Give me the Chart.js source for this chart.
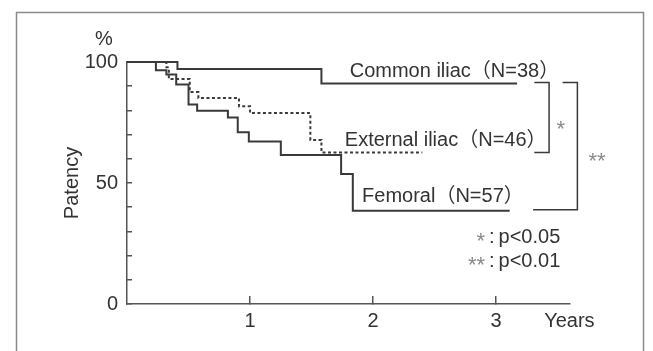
<!DOCTYPE html>
<html>
<head>
<meta charset="utf-8">
<title>Patency</title>
<script src="https://cdn.jsdelivr.net/npm/chart.js@4.4.1/dist/chart.umd.min.js"></script>
<style>
  html, body { margin: 0; padding: 0; background: #fff; }
  #wrap { width: 653px; height: 351px; position: relative; }
</style>
</head>
<body>
<div id="wrap"><canvas id="chart" width="653" height="351"></canvas></div>
<script>
(function() {
    'use strict';

    // Kaplan-Meier steps (years, % patency after each event)
    const commonYears = [0, 0.41, 1.58, 3.17];
    const commonPatency = [100, 97.1, 91.1, 91.1];
    const externalYears = [0, 0.32, 0.34, 0.51, 0.58, 0.91, 1.0, 1.49, 1.58, 2.40];
    const externalPatency = [100, 97.8, 93.0, 87.6, 85.1, 81.7, 78.9, 67.8, 62.6, 62.6];
    const femoralYears = [0, 0.235, 0.32, 0.40, 0.50, 0.57, 0.82, 0.90, 0.99, 1.25, 1.74, 1.835, 3.11];
    const femoralPatency = [100, 96.6, 94.8, 90.7, 82.4, 79.9, 77.1, 71.0, 67.1, 61.6, 53.7, 38.5, 38.5];

    const seriesLabels = ['Common iliac（N=38）', 'External iliac（N=46）', 'Femoral（N=57）'];
    const xTicks = [1, 2, 3];
    const yTicks = [0, 10, 20, 30, 40, 50, 60, 70, 80, 90, 100];
    const yLabels = [0, 50, 100];

    const INK = '#3a3a3a';
    const AXIS = '#555';
    const FONT = "'Liberation Sans', Arial, 'Noto Sans CJK JP', sans-serif";

    Chart.defaults.font.family = FONT;
    Chart.defaults.font.size = 20;
    Chart.defaults.color = '#333';

    function toPoints(xs, ys) {
        return xs.map((x, i) => ({ x: x, y: ys[i] }));
    }

    function curve(label, xs, ys, dash) {
        return {
            label: label,
            data: toPoints(xs, ys),
            borderColor: INK,
            borderWidth: 2,
            borderDash: dash || [],
            stepped: true,
            pointRadius: 0,
            fill: false,
            clip: false
        };
    }

    // frame, curve labels, brackets and the p-value key
    const annotations = {
        id: 'annotations',
        beforeDraw(chart) {
            const ctx = chart.ctx;
            ctx.save();
            ctx.strokeStyle = '#8a8a8a';
            ctx.lineWidth = 1.5;
            ctx.beginPath();
            ctx.moveTo(16.5, 351);
            ctx.lineTo(16.5, 12.5);
            ctx.lineTo(643.5, 12.5);
            ctx.lineTo(643.5, 351);
            ctx.stroke();
            ctx.restore();
        },
        afterDraw(chart) {
            const ctx = chart.ctx;
            const x = chart.scales.x, y = chart.scales.y;
            const px = v => x.getPixelForValue(v);
            const py = v => y.getPixelForValue(v);
            ctx.save();
            ctx.fillStyle = '#333';
            ctx.textBaseline = 'alphabetic';
            ctx.textAlign = 'left';
            ctx.font = '20px ' + FONT;

            ctx.fillText(seriesLabels[0], px(1.81), py(94));
            ctx.fillText(seriesLabels[1], px(1.77), py(65.4));
            ctx.fillText(seriesLabels[2], px(1.91), py(42.1));

            // axis titles
            ctx.fillText('%', px(0) - 32, py(100) - 17);
            ctx.fillText('Years', px(3.39), 327);
            ctx.save();
            ctx.translate(78, py(50));
            ctx.rotate(-Math.PI / 2);
            ctx.textAlign = 'center';
            ctx.fillText('Patency', 0, 0);
            ctx.restore();

            // significance brackets between end values
            const cEnd = commonPatency[commonPatency.length - 1];
            const eEnd = externalPatency[externalPatency.length - 1];
            const fEnd = femoralPatency[femoralPatency.length - 1];
            ctx.strokeStyle = INK;
            ctx.lineWidth = 1.5;
            ctx.beginPath();
            ctx.moveTo(px(3.31), py(cEnd) - 1);
            ctx.lineTo(px(3.43), py(cEnd) - 1);
            ctx.lineTo(px(3.43), py(eEnd));
            ctx.lineTo(px(3.31), py(eEnd));
            ctx.stroke();
            ctx.beginPath();
            ctx.moveTo(px(3.54), py(cEnd) - 1);
            ctx.lineTo(px(3.66), py(cEnd) - 1);
            ctx.lineTo(px(3.66), py(fEnd) - 1);
            ctx.lineTo(px(3.30), py(fEnd) - 1);
            ctx.stroke();

            // asterisks
            ctx.fillStyle = '#8a8a8a';
            ctx.font = '22px ' + FONT;
            ctx.textBaseline = 'middle';
            ctx.fillText('*', px(3.49), py(74.5) + 6);
            ctx.fillText('**', px(3.75), py(61) + 6);
            ctx.textAlign = 'right';
            ctx.fillText('*', 485, 242);
            ctx.fillText('**', 485, 266);

            ctx.fillStyle = '#333';
            ctx.font = '20px ' + FONT;
            ctx.textAlign = 'left';
            ctx.textBaseline = 'alphabetic';
            ctx.fillText(':\u2009p<0.05', 489, 243);
            ctx.fillText(':\u2009p<0.01', 489, 267);
            ctx.restore();
        }
    };

    new Chart(document.getElementById('chart').getContext('2d'), {
        type: 'line',
        data: {
            datasets: [
                curve('Common iliac', commonYears, commonPatency),
                curve('External iliac', externalYears, externalPatency, [3, 2.5]),
                curve('Femoral', femoralYears, femoralPatency)
            ]
        },
        options: {
            responsive: false,
            animation: false,
            layout: { padding: { left: 0, top: 62, right: 83, bottom: 0 } },
            plugins: { legend: { display: false }, tooltip: { enabled: false } },
            scales: {
                x: {
                    type: 'linear',
                    min: 0,
                    max: 3.6,
                    afterBuildTicks: s => { s.ticks = xTicks.map(v => ({ value: v })); },
                    afterFit: s => { s.height = 47; },
                    ticks: { padding: 13, autoSkip: false, maxRotation: 0, color: '#333', font: { size: 20 } },
                    grid: { drawOnChartArea: false, tickLength: -8, color: AXIS, lineWidth: 1.5 },
                    border: { color: AXIS, width: 1.5 }
                },
                y: {
                    min: 0,
                    max: 100,
                    afterBuildTicks: s => { s.ticks = yTicks.map(v => ({ value: v })); },
                    afterFit: s => { s.width = 127; },
                    ticks: {
                        padding: 14,
                        autoSkip: false,
                        color: '#333',
                        font: { size: 20 },
                        callback: v => yLabels.includes(v) ? v : ''
                    },
                    grid: { drawOnChartArea: false, tickLength: -5, color: AXIS, lineWidth: 1.5 },
                    border: { color: AXIS, width: 1.5 }
                }
            }
        },
        plugins: [annotations]
    });
})();
</script>
</body>
</html>
